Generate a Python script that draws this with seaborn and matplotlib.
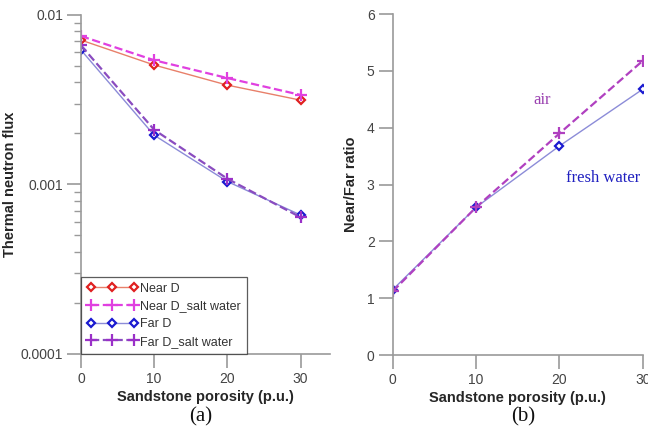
import matplotlib
matplotlib.use("Agg")
import matplotlib.pyplot as plt
import seaborn as sns
import pandas as pd
from matplotlib.ticker import LogLocator, NullFormatter, FixedLocator

sns.set_theme(style="white")
plt.rcParams['font.family'] = ['Liberation Sans', 'DejaVu Sans']

porosity = [0, 10, 20, 30]
near_d = [0.0071, 0.00506, 0.00385, 0.00314]
near_d_salt = [0.0075, 0.0054, 0.00424, 0.00337]
far_d = [0.0062, 0.00195, 0.00104, 0.00066]
far_d_salt = [0.0066, 0.0021, 0.00108, 0.00064]

ratio_air = [1.12, 2.6, 3.9, 5.18]
ratio_fresh = [1.15, 2.6, 3.68, 4.68]

fig = plt.figure(figsize=(6.48, 4.37), dpi=100)
ax1 = fig.add_axes([0.125, 0.19, 0.384, 0.776])
ax2 = fig.add_axes([0.606, 0.1876, 0.386, 0.78])

spine_c = '#9a9a9a'
tick_c = '#444444'

series = [
    ("Near D", near_d, '#e8806a', '#e02020', 'D', '-'),
    ("Near D_salt water", near_d_salt, '#e040e0', '#e040e0', '+', '--'),
    ("Far D", far_d, '#8c8cd8', '#1a1ad0', 'D', '-'),
    ("Far D_salt water", far_d_salt, '#8a4cc0', '#9a30c8', '+', '--'),
]
for name, vals, lc, mc, mk, ls in series:
    df = pd.DataFrame({"x": porosity, "y": vals})
    kw = dict(marker=mk, markersize=4 if mk == 'D' else 9, markeredgecolor=mc,
              markeredgewidth=1.6, linestyle=ls)
    if mk == 'D':
        kw['markerfacecolor'] = 'white'
    sns.lineplot(data=df, x="x", y="y", ax=ax1, color=lc, label=name,
                 linewidth=1.0 if ls == '-' else 1.6, **kw)

ax1.set_yscale('log')
ax1.set_ylim(0.0001, 0.01)
ax1.set_xlim(0, 34)
ax1.set_xticks([0, 10, 20, 30])
ax1.yaxis.set_major_locator(FixedLocator([0.0001, 0.001, 0.01]))
ax1.set_yticklabels(['0.0001', '0.001', '0.01'])
ax1.yaxis.set_minor_locator(LogLocator(base=10, subs=[2, 3, 4, 5, 6, 7, 8, 9]))
ax1.yaxis.set_minor_formatter(NullFormatter())
ax1.set_xlabel("Sandstone porosity (p.u.)", fontsize=10.5, fontweight='bold')
ax1.set_ylabel("Thermal neutron flux", fontsize=10.5, fontweight='bold')
ax1.yaxis.set_label_coords(-0.257, 0.5)
ax1.xaxis.set_label_coords(0.5, -0.105)
leg = ax1.legend(loc='lower left', numpoints=3, fontsize=9, frameon=True,
                 fancybox=False, borderaxespad=0, handlelength=4.0,
                 handletextpad=0.2, labelspacing=0.45, borderpad=0.5)
leg.get_frame().set_edgecolor('#333333')
leg.get_frame().set_linewidth(0.9)
for t in leg.get_texts():
    t.set_color('#333333')

# right panel
df_air = pd.DataFrame({"x": porosity, "y": ratio_air})
df_fresh = pd.DataFrame({"x": porosity, "y": ratio_fresh})
sns.lineplot(data=df_fresh, x="x", y="y", ax=ax2, color='#8c8cd8', linewidth=1.0,
             marker='D', markersize=4, markerfacecolor='white',
             markeredgecolor='#1a1ad0', markeredgewidth=1.6)
sns.lineplot(data=df_air, x="x", y="y", ax=ax2, color='#b040c0', linewidth=1.6,
             linestyle='--', marker='+', markersize=8, markeredgecolor='#b040c0',
             markeredgewidth=1.6)
ax2.set_xlim(0, 30)
ax2.set_ylim(0, 6)
ax2.set_xticks([0, 10, 20, 30])
ax2.set_yticks([0, 1, 2, 3, 4, 5, 6])
ax2.set_xlabel("Sandstone porosity (p.u.)", fontsize=10.5, fontweight='bold')
ax2.set_ylabel("Near/Far ratio", fontsize=10.5, fontweight='bold')
ax2.yaxis.set_label_coords(-0.14, 0.5)
ax2.xaxis.set_label_coords(0.5, -0.105)
ax2.text(17.9, 4.49, "air", family='Liberation Serif', fontsize=12, color='#9a40b0',
         ha='center', va='center')
ax2.text(25.2, 3.12, "fresh water", family='Liberation Serif', fontsize=12,
         color='#2020c0', ha='center', va='center')

for ax in (ax1, ax2):
    for s in ('top', 'right'):
        ax.spines[s].set_visible(False)
    for s in ('left', 'bottom'):
        ax.spines[s].set_color(spine_c)
        ax.spines[s].set_linewidth(1.2)
    ax.tick_params(axis='both', which='major', direction='out', length=10,
                   width=1.2, color=spine_c, labelcolor=tick_c, labelsize=10, pad=3,
                   left=True, bottom=True)
    ax.tick_params(axis='y', which='minor', direction='out', length=5,
                   width=1.0, color=spine_c, left=True)

fig.text(0.309, 0.045, "(a)", family='Liberation Serif', fontsize=15, ha='center', va='center', color='#111111')
fig.text(0.807, 0.045, "(b)", family='Liberation Serif', fontsize=15, ha='center', va='center', color='#111111')

fig.savefig("out.png", dpi=100)
